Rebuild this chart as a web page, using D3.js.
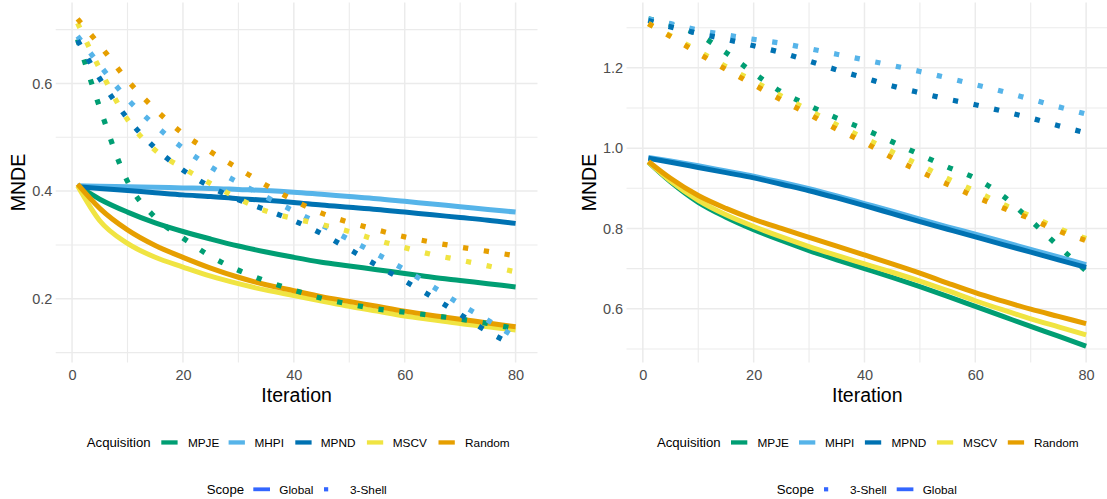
<!DOCTYPE html>
<html><head><meta charset="utf-8">
<script src="https://cdn.jsdelivr.net/npm/d3@7"></script>
<style>
body{margin:0;background:#fff;}
svg{display:block;font-family:"Liberation Sans",Arial,Helvetica,sans-serif;}
</style></head><body>
<svg id="chart" width="1107" height="499"></svg>
<script>
// ---------- data ----------
const iterations = [1,5,10,15,20,25,30,35,40,45,50,55,60,65,70,75,80];
const acquisitions = ["MPJE","MHPI","MPND","MSCV","Random"];
const xTicks = [0,20,40,60,80];
const leftYTicks = [0.2,0.4,0.6];
const rightYTicks = [0.6,0.8,1.0,1.2];

const leftGlobal = {
  MPJE:   [.410,.385,.361,.341,.325,.311,.298,.287,.277,.268,.261,.254,.247,.240,.234,.228,.222],
  MHPI:   [.410,.409,.408,.407,.406,.405,.403,.401,.398,.394,.390,.386,.381,.376,.371,.366,.361],
  MPND:   [.408,.405,.401,.397,.393,.390,.386,.383,.379,.374,.370,.366,.361,.356,.351,.346,.340],
  MSCV:   [.410,.345,.303,.277,.259,.242,.228,.216,.206,.196,.186,.177,.168,.161,.154,.148,.142],
  Random: [.413,.368,.328,.299,.277,.257,.240,.226,.215,.204,.195,.186,.177,.169,.162,.155,.148]
};
const left3Shell = {
  MPJE:   [.682,.555,.418,.351,.313,.279,.253,.233,.216,.201,.190,.181,.175,.169,.162,.154,.144],
  MHPI:   [.688,.634,.571,.522,.480,.445,.416,.389,.363,.337,.310,.283,.254,.223,.190,.160,.128],
  MPND:   [.680,.609,.535,.480,.439,.408,.384,.365,.345,.321,.292,.262,.233,.203,.171,.139,.112],
  MSCV:   [.712,.627,.533,.476,.443,.414,.386,.363,.349,.338,.325,.309,.295,.282,.272,.261,.250],
  Random: [.720,.671,.606,.552,.507,.473,.442,.411,.383,.359,.342,.328,.315,.305,.296,.288,.280]
};
const rightGlobal = {
  MPJE:   [.965,.916,.865,.828,.797,.770,.745,.722,.700,.678,.655,.631,.606,.581,.556,.532,.507],
  MHPI:   [.977,.968,.956,.943,.930,.915,.899,.881,.862,.843,.823,.804,.786,.767,.748,.729,.710],
  MPND:   [.975,.965,.952,.939,.926,.910,.894,.876,.857,.837,.817,.798,.779,.760,.741,.722,.703],
  MSCV:   [.965,.918,.870,.834,.805,.779,.755,.733,.712,.691,.669,.645,.620,.597,.575,.555,.535],
  Random: [.967,.925,.882,.850,.823,.800,.778,.756,.734,.712,.689,.664,.640,.619,.599,.581,.563]
};
const right3Shell = {
  MPJE:   [1.322,1.308,1.283,1.238,1.187,1.140,1.106,1.075,1.047,1.016,0.984,0.953,0.925,0.881,0.820,0.756,0.694],
  MHPI:   [1.322,1.310,1.294,1.282,1.271,1.261,1.248,1.234,1.220,1.206,1.191,1.175,1.158,1.141,1.122,1.103,1.085],
  MPND:   [1.318,1.302,1.286,1.271,1.255,1.238,1.217,1.195,1.175,1.155,1.138,1.122,1.108,1.092,1.075,1.056,1.038],
  MSCV:   [1.310,1.280,1.242,1.203,1.167,1.130,1.094,1.058,1.025,0.991,0.958,0.924,0.893,0.860,0.831,0.800,0.775],
  Random: [1.310,1.278,1.236,1.196,1.158,1.120,1.084,1.047,1.014,0.976,0.942,0.910,0.879,0.851,0.824,0.794,0.770]
};

// ---------- styles ----------
const colors = {MPJE:"#009E73", MHPI:"#56B4E9", MPND:"#0072B2", MSCV:"#F0E442", Random:"#E69F00"};
const scopeColor = "#3366FF";
const gridColor = "#EBEBEB";

const svg = d3.select("#chart");

const panels = [
  {x0:55.7, x1:537.5, y0:2.5, y1:362.5, global:leftGlobal, shell:left3Shell, yTicks:leftYTicks,
   titleX:25, order:["Global","3-Shell"],
   legend:{acqTitle:86.8, keys:[161.3,228.6,295.3,366.9,438.5], labels:[187.9,254.5,320.8,392.7,465.1],
           scopeTitle:206.7, scopeKeys:{"Global":253.3,"3-Shell":324}, scopeLabels:{"Global":279.3,"3-Shell":350}}},
  {x0:626.5, x1:1108, y0:2.5, y1:362.5, global:rightGlobal, shell:right3Shell, yTicks:rightYTicks,
   titleX:596, order:["3-Shell","Global"],
   legend:{acqTitle:656.9, keys:[731,799,864.9,936.9,1007.8], labels:[757.5,824.9,891.5,963.1,1034],
           scopeTitle:776.7, scopeKeys:{"3-Shell":824,"Global":896.7}, scopeLabels:{"3-Shell":850,"Global":922.7}}}
];

function expand(lo, hi){ const e=(hi-lo)*0.05; return [lo-e, hi+e]; }
function minorOf(ticks, dom){
  const step = ticks[1]-ticks[0];
  const out = [];
  for (let i=-1;i<ticks.length;i++){
    const m = (i<0? ticks[0]-step/2 : ticks[i]+step/2);
    if (m>=dom[0] && m<=dom[1]) out.push(+m.toFixed(6));
  }
  return out;
}

panels.forEach(p => {
  const allVals = acquisitions.flatMap(a => p.global[a].concat(p.shell[a]));
  const yDom = expand(d3.min(allVals), d3.max(allVals));
  const xDom = expand(d3.min(iterations), d3.max(iterations));
  const x = d3.scaleLinear().domain(xDom).range([p.x0, p.x1]);
  const y = d3.scaleLinear().domain(yDom).range([p.y1, p.y0]);

  const g = svg.append("g");
  // grid
  const xMinor = minorOf(xTicks, xDom), yMinor = minorOf(p.yTicks, yDom);
  g.selectAll(".vminor").data(xMinor).join("line")
    .attr("x1", d=>x(d)).attr("x2", d=>x(d)).attr("y1", p.y0).attr("y2", p.y1)
    .attr("stroke", gridColor).attr("stroke-width", 1.1);
  g.selectAll(".hminor").data(yMinor).join("line")
    .attr("y1", d=>y(d)).attr("y2", d=>y(d)).attr("x1", p.x0).attr("x2", p.x1)
    .attr("stroke", gridColor).attr("stroke-width", 1.1);
  g.selectAll(".vmajor").data(xTicks).join("line")
    .attr("x1", d=>x(d)).attr("x2", d=>x(d)).attr("y1", p.y0).attr("y2", p.y1)
    .attr("stroke", gridColor).attr("stroke-width", 1.5);
  g.selectAll(".hmajor").data(p.yTicks).join("line")
    .attr("y1", d=>y(d)).attr("y2", d=>y(d)).attr("x1", p.x0).attr("x2", p.x1)
    .attr("stroke", gridColor).attr("stroke-width", 1.5);

  // axes
  const xa = g.append("g").attr("transform", `translate(0,${p.y1})`)
    .call(d3.axisBottom(x).tickValues(xTicks).tickSize(0).tickFormat(d3.format("d")));
  xa.select(".domain").remove();
  xa.selectAll("text").attr("y", 17.5).attr("dy", null)
    .attr("fill", "#4D4D4D").style("font-size", "14.5px").style("font-family", "Liberation Sans, Arial, sans-serif");
  const ya = g.append("g").attr("transform", `translate(${p.x0},0)`)
    .call(d3.axisLeft(y).tickValues(p.yTicks).tickSize(0).tickPadding(3.4).tickFormat(d3.format(".1f")));
  ya.select(".domain").remove();
  ya.selectAll("text").attr("fill", "#4D4D4D").style("font-size", "14.5px")
    .style("font-family", "Liberation Sans, Arial, sans-serif");

  // titles
  g.append("text").attr("x", (p.x0+p.x1)/2).attr("y", 402).attr("text-anchor", "middle")
    .style("font-size", "19.5px").attr("fill", "#000").text("Iteration");
  g.append("text").attr("transform", `translate(${p.titleX},${(p.y0+p.y1)/2}) rotate(-90)`)
    .attr("text-anchor", "middle").style("font-size", "19.5px").attr("fill", "#000").text("MNDE");

  // lines
  const line = d3.line().x(d=>x(d.it)).y(d=>y(d.v)).curve(d3.curveMonotoneX);
  p.order.forEach(scope => {
    const src = scope === "Global" ? p.global : p.shell;
    acquisitions.forEach(a => {
      const pts = iterations.map((it,i) => ({it, v: src[a][i]}));
      const path = g.append("path").datum(pts).attr("d", line)
        .attr("fill", "none").attr("stroke", colors[a]).attr("stroke-linecap", "butt")
        .attr("stroke-linejoin", "round");
      if (scope === "Global") path.attr("stroke-width", 5);
      else path.attr("stroke-width", 5.25).attr("stroke-dasharray", "5.25 15.75");
    });
  });

  // legend
  const L = p.legend;
  const lg = g.append("g").style("font-size", "11.8px").attr("fill", "#000");
  lg.append("text").attr("x", L.acqTitle).attr("y", 446.9).style("font-size", "13.2px").text("Acquisition");
  acquisitions.forEach((a,i) => {
    lg.append("rect").attr("x", L.keys[i]).attr("y", 440.3).attr("width", 16.3).attr("height", 4.3)
      .attr("fill", colors[a]);
    lg.append("text").attr("x", L.labels[i]).attr("y", 446.8).text(a);
  });
  lg.append("text").attr("x", L.scopeTitle).attr("y", 493.8).style("font-size", "13.2px").text("Scope");
  p.order.forEach(s => {
    if (s === "Global")
      lg.append("rect").attr("x", L.scopeKeys[s]).attr("y", 487.4).attr("width", 16.7).attr("height", 3.8).attr("fill", scopeColor);
    else
      lg.append("rect").attr("x", L.scopeKeys[s]).attr("y", 487.2).attr("width", 4.2).attr("height", 4.2).attr("fill", scopeColor);
    lg.append("text").attr("x", L.scopeLabels[s]).attr("y", 493.6).text(s);
  });
});
</script>
</body></html>
